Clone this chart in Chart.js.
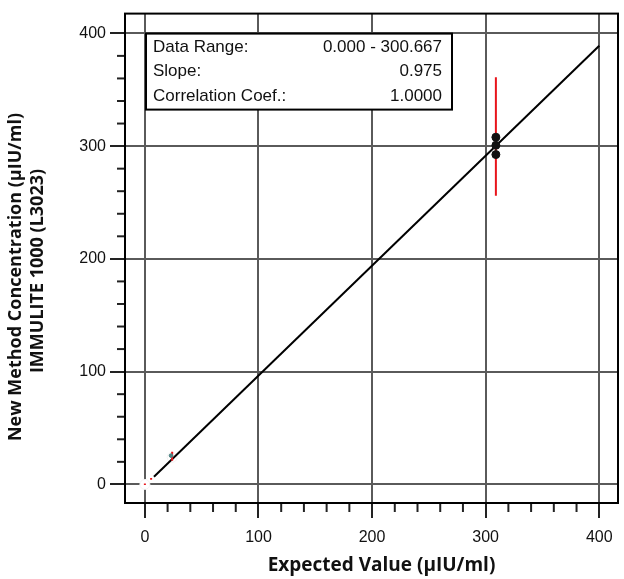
<!DOCTYPE html>
<html>
<head>
<meta charset="utf-8">
<script src="https://cdn.jsdelivr.net/npm/chart.js@4.4.0/dist/chart.umd.min.js"></script>
<style>
  body { margin: 0; background: #fff; }
  #wrap { width: 624px; height: 579px; }
</style>
</head>
<body>
<div id="wrap"><canvas id="myChart" width="624" height="579"></canvas></div>
<script>
// valores
const expected = [0, 5.5, 24, 309];
const barLow = [-0.6, 4.2, 21, 256];
const barHigh = [0.8, 5.6, 29, 361];
const replicateX = [309, 309, 309];
const replicateY = [292.5, 300.7, 307.9];
const lowX = [23];
const lowY = [25.5];
const haloX = [0, 24];
const haloY = [0, 24];
const fitX = [8, 400];
const fitY = [6.8, 389];
const majorTicks = [0, 100, 200, 300, 400];
const statLabels = ['Data Range:', 'Slope:', 'Correlation Coef.:'];
const statValues = ['0.000 - 300.667', '0.975', '1.0000'];
const xTitle = 'Expected Value (µIU/ml)';
const yTitle = ['New Method Concentration (µIU/ml)', 'IMMULITE 1000 (L3023)'];

const isMajor = v => majorTicks.includes(v);
const toPoints = (xs, ys) => xs.map((x, i) => ({ x: x, y: ys[i] }));

// barras rojas, una por grupo
const errorBars = expected.map((x, i) => ({
    data: [{ x: x, y: barLow[i] }, { x: x, y: barHigh[i] }],
    showLine: true,
    borderColor: '#e8141b',
    borderWidth: 2,
    pointRadius: 0,
}));

// ticks menores, marco, recuadro y titulos
const extrasPlugin = {
    id: 'extras',
    afterDraw(chart) {
        const ctx = chart.ctx;
        const area = chart.chartArea;
        const xs = chart.scales.x;
        const ys = chart.scales.y;
        ctx.save();
        ctx.strokeStyle = '#222';
        ctx.lineWidth = 2;
        for (let v = 20; v < 400; v += 20) {
            if (isMajor(v)) continue;
            const px = xs.getPixelForValue(v);
            ctx.beginPath();
            ctx.moveTo(px, area.bottom);
            ctx.lineTo(px, area.bottom + 9);
            ctx.stroke();
            const py = ys.getPixelForValue(v);
            ctx.beginPath();
            ctx.moveTo(area.left, py);
            ctx.lineTo(area.left - 8, py);
            ctx.stroke();
        }
        // marco
        ctx.strokeStyle = '#000';
        ctx.strokeRect(area.left, area.top, area.right - area.left, area.bottom - area.top);

        // recuadro de estadisticas
        const bx = area.left + 21, by = area.top + 20, bw = 306, bh = 76;
        ctx.fillStyle = '#fff';
        ctx.fillRect(bx, by, bw, bh);
        ctx.strokeRect(bx, by, bw, bh);
        ctx.fillStyle = '#111';
        ctx.font = '17px "Liberation Sans", Arial, sans-serif';
        ctx.textBaseline = 'middle';
        statLabels.forEach((label, i) => {
            const ty = by + 13.5 + i * 24.5;
            ctx.textAlign = 'left';
            ctx.fillText(label, bx + 7, ty);
            ctx.textAlign = 'right';
            ctx.fillText(statValues[i], bx + bw - 10, ty);
        });

        // titulos de ejes
        ctx.fillStyle = '#111';
        ctx.textAlign = 'center';
        ctx.font = 'bold 19px "Open Sans", Lato, sans-serif';
        ctx.fillText(xTitle, (area.left + area.right) / 2 + 10, 566);
        ctx.font = 'bold 18px "Open Sans", Lato, sans-serif';
        ctx.translate(16, 277);
        ctx.rotate(-Math.PI / 2);
        ctx.fillText(yTitle[0], 0, 0);
        ctx.fillText(yTitle[1], 6, 22);
        ctx.restore();
    }
};

const tickFont = { family: '"Liberation Sans", Arial, sans-serif', size: 16 };
const gridOpts = {
    color: c => isMajor(c.tick.value) ? '#5a5a5a' : 'transparent',
    tickColor: c => isMajor(c.tick.value) ? '#222' : 'transparent',
    lineWidth: 2,
    tickLength: 15,
};

const ctx = document.getElementById('myChart').getContext('2d');
const myChart = new Chart(ctx, {
    type: 'scatter',
    data: {
        datasets: [
            {
                data: toPoints(replicateX, replicateY),
                backgroundColor: '#111',
                borderColor: '#111',
                pointRadius: 4,
            },
            {
                data: toPoints(lowX, lowY),
                backgroundColor: '#4f8383',
                borderColor: '#4f8383',
                pointRadius: 1.8,
            },
            ...errorBars,
            {
                data: toPoints(fitX, fitY),
                showLine: true,
                borderColor: '#000',
                borderWidth: 2,
                pointRadius: 0,
            },
            {
                data: toPoints(haloX, haloY),
                backgroundColor: '#fff',
                borderColor: '#f2f2f2',
                borderWidth: 1,
                pointRadius: 5,
            },
        ]
    },
    options: {
        responsive: false,
        animation: false,
        devicePixelRatio: 1,
        layout: { padding: { top: 5, right: 4 } },
        plugins: {
            legend: { display: false },
            tooltip: { enabled: false },
        },
        scales: {
            x: {
                type: 'linear',
                min: -17.5,
                max: 416.5,
                afterFit: s => { s.height = 76; },
                border: { display: false },
                grid: gridOpts,
                ticks: {
                    stepSize: 20,
                    includeBounds: false,
                    autoSkip: false,
                    maxRotation: 0,
                    padding: 10,
                    color: '#111',
                    font: tickFont,
                    callback: v => isMajor(v) ? v : '',
                },
            },
            y: {
                type: 'linear',
                min: -16.5,
                max: 417.5,
                afterFit: s => { s.width = 125; },
                border: { display: false },
                grid: gridOpts,
                ticks: {
                    stepSize: 20,
                    includeBounds: false,
                    autoSkip: false,
                    padding: 4,
                    color: '#111',
                    font: tickFont,
                    callback: v => isMajor(v) ? v : '',
                },
            },
        }
    },
    plugins: [extrasPlugin],
});
</script>
</body>
</html>
